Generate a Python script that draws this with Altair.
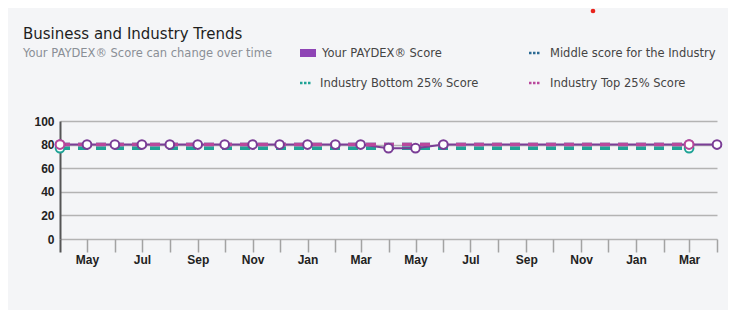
import altair as alt
import pandas as pd

title_text = "Business and Industry Trends"
subtitle_text = "Your PAYDEX® Score can change over time"

legend_labels = [
    "Your PAYDEX® Score",
    "Middle score for the Industry",
    "Industry Bottom 25% Score",
    "Industry Top 25% Score",
]

paydex_dates = [
    "2021-04-01", "2021-05-01", "2021-06-01", "2021-07-01", "2021-08-01",
    "2021-09-01", "2021-10-01", "2021-11-01", "2021-12-01", "2022-01-01",
    "2022-02-01", "2022-03-01", "2022-04-01", "2022-05-01", "2022-06-01",
    "2023-03-01", "2023-04-01",
]
paydex_values = [80, 80, 80, 80, 80, 80, 80, 80, 80, 80, 80, 80, 77, 77, 80, 80, 80]

industry_dates = ["2021-04-01", "2023-03-01"]
middle_values = [80, 80]
bottom_values = [77, 77]
top_values = [80, 80]

y_ticks = [0, 20, 40, 60, 80, 100]

PURPLE = "#7a3d96"
PURPLE_LEG = "#8e44b5"
PINK = "#b9489c"
TEAL = "#1fa396"
BLUE = "#2b6a93"
TEXT_FONT = "DejaVu Sans"

paydex_df = pd.DataFrame({"date": paydex_dates, "score": paydex_values})
middle_df = pd.DataFrame({"date": industry_dates, "score": middle_values})
bottom_df = pd.DataFrame({"date": industry_dates, "score": bottom_values})
top_df = pd.DataFrame({"date": industry_dates, "score": top_values})

first_tick = "utcyear(datum.value) == 2021 && utcmonth(datum.value) == 3"

x_enc = alt.X(
    "date:T",
    scale=alt.Scale(
        type="utc",
        domain=[alt.DateTime(year=2021, month=4, date=1, utc=True),
                alt.DateTime(year=2023, month=4, date=1, utc=True)],
        nice=False,
    ),
    axis=alt.Axis(
        format="%b",
        labelExpr="utcmonth(datum.value) % 2 == 0 ? datum.label : ''",
        tickCount={"interval": "month", "step": 1},
        domain=False,
        grid=False,
        tickSize=13,
        tickColor={"condition": {"test": first_tick, "value": "#555555"}, "value": "#a3a3a3"},
        tickWidth={"condition": {"test": first_tick, "value": 2}, "value": 1.5},
        labelFont="Liberation Sans",
        labelFontSize=12,
        labelFontWeight="bold",
        labelColor="#222222",
        labelPadding=2,
        labelOverlap=False,
        labelFlush=False,
        title=None,
    ),
)
y_enc = alt.Y(
    "score:Q",
    scale=alt.Scale(domain=[0, 100], nice=False),
    axis=alt.Axis(
        values=y_ticks,
        grid=True,
        gridColor="#b3b3b3",
        gridWidth=1.5,
        domain=True,
        domainColor="#555555",
        domainWidth=2,
        ticks=False,
        labelFont="Liberation Sans",
        labelFontSize=12,
        labelFontWeight="bold",
        labelColor="#222222",
        labelPadding=6,
        title=None,
    ),
)


def line(df, color, width, dash=None):
    kw = dict(color=color, strokeWidth=width)
    if dash:
        kw["strokeDash"] = dash
    return alt.Chart(df).mark_line(**kw).encode(x=x_enc, y=y_enc)


def dots(df, color):
    return alt.Chart(df).mark_circle(
        fill="white", stroke=color, strokeWidth=2, size=75, opacity=1, fillOpacity=1
    ).encode(x=x_enc, y=y_enc)


def txt(label, x, y, size, color, weight="normal", font=TEXT_FONT):
    return alt.Chart(alt.Data(values=[{"t": label}])).mark_text(
        align="left", baseline="alphabetic", fontSize=size, color=color,
        font=font, fontWeight=weight,
    ).encode(x=alt.value(x), y=alt.value(y), text="t:N")


def legend_dash(x, x2, y, color):
    return alt.Chart(alt.Data(values=[{}])).mark_rule(
        color=color, strokeWidth=2.5, strokeDash=[2.5, 1.5]
    ).encode(x=alt.value(x), x2=alt.value(x2), y=alt.value(y))


legend_square = alt.Chart(alt.Data(values=[{}])).mark_rect(color=PURPLE_LEG).encode(
    x=alt.value(240), x2=alt.value(256), y=alt.value(-72), y2=alt.value(-64)
)

red_dot = alt.Chart(alt.Data(values=[{}])).mark_circle(color="#e8231c", size=22, opacity=1).encode(
    x=alt.value(533), y=alt.value(-110)
)

chart = alt.layer(
    line(middle_df, BLUE, 3.5, [10, 8]),
    line(bottom_df, TEAL, 3.5, [10, 8]),
    line(paydex_df, PURPLE, 2),
    line(top_df, PINK, 3.5, [10, 8]),
    dots(paydex_df, PURPLE),
    dots(bottom_df, TEAL),
    dots(top_df, PINK),
    txt(title_text, -37, -82, 15, "#1e1e1e"),
    txt(subtitle_text, -37, -64, 11.5, "#8a8f96"),
    legend_square,
    txt(legend_labels[0], 262, -64, 11.5, "#444444"),
    legend_dash(469, 480, -68, BLUE),
    txt(legend_labels[1], 490, -64, 11.5, "#444444"),
    legend_dash(240, 251, -38, TEAL),
    txt(legend_labels[2], 260, -34, 11.5, "#444444"),
    legend_dash(469, 480, -38, PINK),
    txt(legend_labels[3], 490, -34, 11.5, "#444444"),
    red_dot,
).properties(
    width=657,
    height=118,
    autosize=alt.AutoSizeParams(type="none"),
    padding={"left": 52, "top": 113, "right": 11, "bottom": 71},
    background="#f4f5f7",
).configure_view(stroke=None)

chart.save("out.html", embed_options={"renderer": "svg", "actions": False})
